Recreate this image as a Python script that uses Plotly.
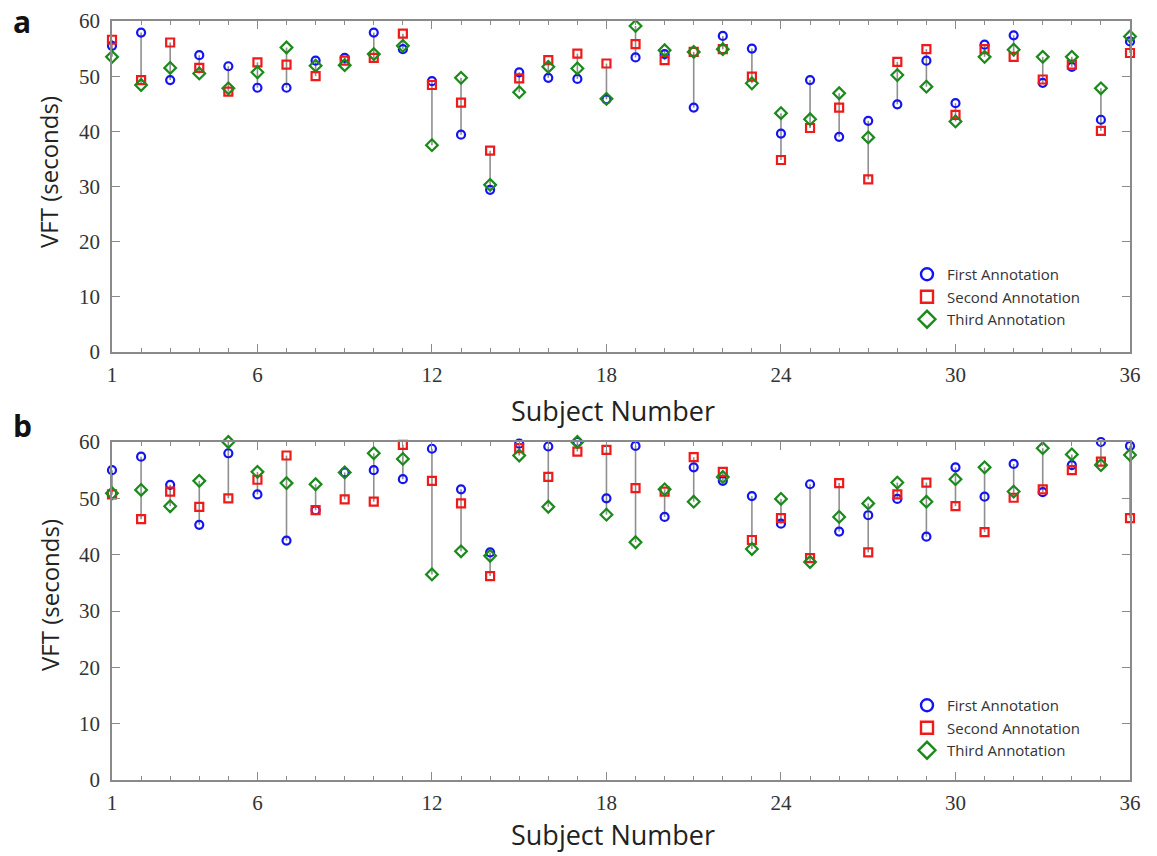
import plotly.graph_objects as go

subjects = list(range(1, 37))

# Panel a
a_first = [55.5, 57.9, 49.3, 53.8, 51.8, 47.9, 47.9, 52.8, 53.3, 57.9, 54.9, 49.1, 39.4, 29.4, 50.7, 49.7, 49.5, 45.8,
           53.4, 54.0, 44.3, 57.3, 55.0, 39.6, 49.3, 39.0, 41.9, 44.9, 52.8, 45.1, 55.7, 57.4, 48.8, 51.7, 42.1, 56.3]
a_second = [56.6, 49.3, 56.1, 51.5, 47.2, 52.5, 52.1, 50.0, 52.8, 53.3, 57.7, 48.4, 45.2, 36.5, 49.6, 52.9, 54.1, 52.3,
            55.8, 52.9, 54.4, 54.9, 49.9, 34.8, 40.6, 44.3, 31.3, 52.6, 54.9, 43.0, 54.9, 53.5, 49.4, 52.1, 40.1, 54.2]
a_third = [53.5, 48.4, 51.5, 50.5, 47.8, 50.7, 55.2, 51.9, 52.0, 54.0, 55.5, 37.5, 49.7, 30.3, 47.1, 51.7, 51.4, 45.9,
           59.1, 54.7, 54.4, 54.9, 48.7, 43.3, 42.2, 46.9, 38.9, 50.2, 48.1, 41.8, 53.5, 54.8, 53.5, 53.5, 47.8, 57.2]

# Panel b
b_first = [55.0, 57.4, 52.4, 45.3, 58.0, 50.7, 42.5, 47.9, 54.6, 55.0, 53.4, 58.8, 51.6, 40.4, 59.7, 59.2, 60.0, 50.0,
           59.3, 46.7, 55.5, 53.1, 50.4, 45.5, 52.5, 44.1, 47.0, 49.9, 43.2, 55.5, 50.3, 56.1, 51.1, 55.9, 60.0, 59.3]
b_second = [50.7, 46.3, 51.2, 48.5, 50.0, 53.3, 57.6, 47.9, 49.8, 49.4, 59.5, 53.1, 49.1, 36.2, 58.9, 53.8, 58.3, 58.6,
            51.8, 51.2, 57.3, 54.7, 42.6, 46.5, 39.4, 52.7, 40.4, 50.7, 52.8, 48.6, 44.0, 50.1, 51.6, 55.0, 56.5, 46.5]
b_third = [50.9, 51.5, 48.6, 53.1, 60.0, 54.7, 52.7, 52.5, 54.6, 58.0, 57.0, 36.5, 40.6, 39.8, 57.6, 48.5, 60.0, 47.1,
           42.2, 51.6, 49.4, 53.8, 41.0, 49.9, 38.7, 46.7, 49.1, 52.8, 49.4, 53.4, 55.5, 51.2, 58.9, 57.8, 55.9, 57.7]

series_names = ["First Annotation", "Second Annotation", "Third Annotation"]
x_ticks = [1, 6, 12, 18, 24, 30, 36]
y_ticks = [0, 10, 20, 30, 40, 50, 60]

BLUE = "#1414f0"
RED = "#f01a1a"
GREEN = "#1a8a1a"
AXIS = "#8a8a8a"
TEXT = "#333333"

W, H = 1157.0, 856.0
ML, MR = 112, 27
PW = W - ML - MR

fig = go.Figure()

symbols = ["circle-open", "square-open", "diamond-open"]
colors = [BLUE, RED, GREEN]
sizes = [8, 8, 9]


def add_panel(first, second, third, xa, ya, legend):
    lx, ly = [], []
    for s, a, b, c in zip(subjects, first, second, third):
        lx += [s, s, None]
        ly += [min(a, b, c), max(a, b, c), None]
    fig.add_trace(go.Scatter(x=lx, y=ly, mode="lines", line=dict(color="#8f8f8f", width=1.6),
                             showlegend=False, hoverinfo="skip", xaxis=xa, yaxis=ya, cliponaxis=False))
    for name, vals, sym, col, sz in zip(series_names, [first, second, third], symbols, colors, sizes):
        fig.add_trace(go.Scatter(x=subjects, y=vals, mode="markers", name=name, showlegend=False,
                                 marker=dict(symbol=sym, size=sz, color=col, line=dict(color=col, width=2.2)),
                                 xaxis=xa, yaxis=ya, cliponaxis=False))
    # legend entries with larger symbols
    for name, sym, col, sz in zip(series_names, symbols, colors, [12, 12, 13]):
        fig.add_trace(go.Scatter(x=[None], y=[None], mode="markers", name=name, legend=legend,
                                 marker=dict(symbol=sym, size=sz, color=col, line=dict(color=col, width=2.4)),
                                 xaxis=xa, yaxis=ya))


add_panel(a_first, a_second, a_third, "x", "y", "legend")
add_panel(b_first, b_second, b_third, "x2", "y2", "legend2")

dom_a = [1 - 352 / H, 1 - 21 / H]
dom_b = [1 - 780 / H, 1 - 442 / H]

tickfont = dict(family="Liberation Serif", size=21, color=TEXT)
xaxis_common = dict(range=[1, 36], tickvals=x_ticks, ticktext=[str(t) for t in x_ticks],
                    ticks="inside", ticklen=8, tickwidth=1.2, tickcolor=AXIS,
                    minor=dict(dtick=1, tick0=1, ticks="inside", ticklen=4, tickcolor=AXIS, tickwidth=1),
                    showline=True, linecolor=AXIS, linewidth=1.5, mirror="ticks",
                    showgrid=False, zeroline=False, automargin=False, ticklabelstandoff=3,
                    tickfont=tickfont)
yaxis_common = dict(range=[0, 60], tickvals=y_ticks, ticks="inside", ticklen=8, tickwidth=1.2, tickcolor=AXIS,
                    showline=True, linecolor=AXIS, linewidth=1.5, mirror="ticks",
                    showgrid=False, zeroline=False, automargin=False, ticklabelstandoff=6,
                    tickfont=tickfont)

legend_common = dict(xanchor="left", yanchor="top", bgcolor="rgba(0,0,0,0)",
                     font=dict(family="Open Sans", size=15, color=TEXT), tracegroupgap=0, itemwidth=30)

fig.update_layout(
    width=W, height=H,
    margin=dict(l=ML, r=MR, t=0, b=0, autoexpand=False),
    paper_bgcolor="white", plot_bgcolor="white",
    xaxis=dict(domain=[0, 1], anchor="y", **xaxis_common),
    yaxis=dict(domain=dom_a, anchor="x", **yaxis_common),
    xaxis2=dict(domain=[0, 1], anchor="y2", **xaxis_common),
    yaxis2=dict(domain=dom_b, anchor="x2", **yaxis_common),
    legend=dict(x=(907 - ML) / PW, y=1 - 258 / H, **legend_common),
    legend2=dict(x=(907 - ML) / PW, y=1 - 689 / H, **legend_common),
    showlegend=True,
)


def px_x(x):
    return (x - ML) / PW


annots = [
    dict(text="VFT (seconds)", x=49, y=172, textangle=-90, size=24),
    dict(text="VFT (seconds)", x=49, y=595, textangle=-90, size=24),
    dict(text="Subject Number", x=613, y=410, textangle=0, size=27),
    dict(text="Subject Number", x=613, y=834, textangle=0, size=27),
]
for a in annots:
    fig.add_annotation(xref="paper", yref="paper", showarrow=False, xanchor="center", yanchor="middle",
                       font=dict(family="Open Sans", size=a["size"], color="#222222"),
                       text=a["text"], textangle=a["textangle"], x=px_x(a["x"]), y=1 - a["y"] / H)
for lbl, yy in [("a", 22), ("b", 425)]:
    fig.add_annotation(xref="paper", yref="paper", showarrow=False, xanchor="center", yanchor="middle",
                       text=f"<b>{lbl}</b>", font=dict(family="Open Sans", size=30, color="#111111"),
                       x=px_x(22), y=1 - yy / H)

fig.write_html("out.html", config={"displayModeBar": False},
               post_script="document.body.style.margin='0px';")
